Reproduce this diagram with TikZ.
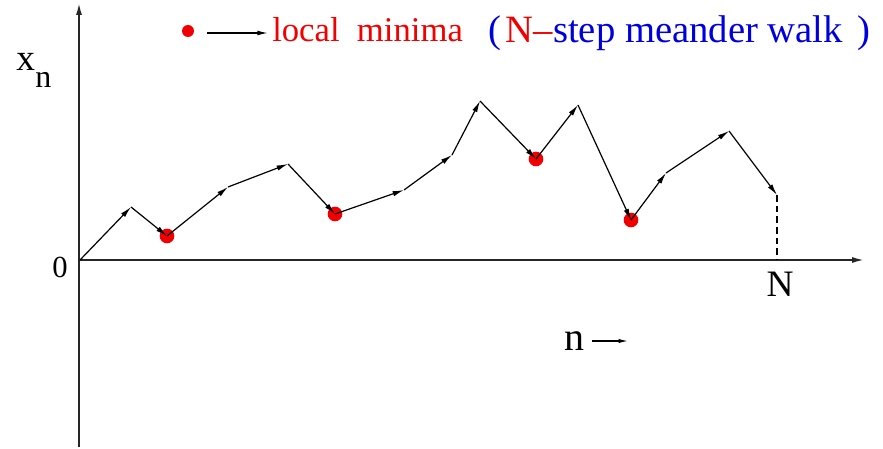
\documentclass[tikz,border=0pt]{standalone}
\usepackage{fontspec}
\setmainfont{Liberation Serif}
\usetikzlibrary{arrows.meta}
\definecolor{legred}{RGB}{240,0,0}
\definecolor{legblue}{RGB}{0,0,220}
\begin{document}
\begin{tikzpicture}[x=0.75pt,y=-0.75pt,
  axisline/.style={line width=1.3pt,black!85,-{Latex[length=9pt,width=4.5pt]}},
  walkstep/.style={line width=0.9pt,-{Latex[length=8.5pt,width=4pt]}},
  mindot/.style={circle,fill=legred,inner sep=0pt,minimum size=11pt},
  lbl/.style={inner sep=0pt,font=\fontsize{#1}{#1}\selectfont}
]
\useasboundingbox (0,0) rectangle (883,449);
% axes
\coordinate (o) at (79,260);
\coordinate (ybot) at (79,447);
\coordinate (ytop) at (79,3);
\coordinate (xend) at (864,260);
\draw[axisline] (ybot) -- (ytop);
\draw[axisline] (o) -- (xend);
% walk vertices
\coordinate (v0) at (80,260);
\coordinate (v1) at (131,207);
\coordinate (v2) at (167,236);
\coordinate (v3) at (228,187);
\coordinate (v4) at (288,164);
\coordinate (v5) at (335,214);
\coordinate (v6) at (404,190);
\coordinate (v7) at (452,155);
\coordinate (v8) at (480,101);
\coordinate (v9) at (536,159);
\coordinate (v10) at (578,105);
\coordinate (v11) at (631,220);
\coordinate (v12) at (666,173);
\coordinate (v13) at (729,131);
\coordinate (v14) at (777,195);
\coordinate (vN) at (777,260);
% minima dots
\node[mindot] (m1) at (v2) {};
\node[mindot] (m2) at (v5) {};
\node[mindot] (m3) at (v9) {};
\node[mindot] (m4) at (v11) {};
% steps
\foreach \a/\b in {v0/v1,v1/v2,v2/v3,v3/v4,v4/v5,v5/v6,v6/v7,v7/v8,v8/v9,v9/v10,v10/v11,v11/v12,v12/v13,v13/v14}
  \draw[walkstep] (\a) -- (\b);
\draw[line width=0.9pt,dashed,dash pattern=on 5pt off 3pt] (v14) -- (vN);
% labels
\node[lbl=28pt,anchor=base west] (xlab) at (16,71) {x};
\node[lbl=24pt,anchor=base west] (nsub) at (35,88) {n};
\node[lbl=23pt,anchor=base east] (zero) at (68,278) {0};
\node[lbl=28pt,anchor=base] (Nlab) at (780,297) {N};
\node[lbl=30pt,anchor=base west] (nlab) at (564,350) {n};
\coordinate (na1) at (592,341);
\coordinate (na2) at (628,341);
\draw[line width=0.9pt,-{Latex[length=7pt,width=3.2pt]}] (na1) -- (na2);
% legend
\node[mindot,minimum size=9pt] (ldot) at (188,31) {};
\coordinate (la1) at (207,33);
\coordinate (la2) at (268,33);
\draw[line width=0.9pt,-{Latex[length=8pt,width=3.6pt]}] (la1) -- (la2);
\node[lbl=26pt,anchor=base west,text=legred] (loc) at (272,42) {local\ \ minima};
\node[lbl=29pt,anchor=base west,text=legblue] (lp) at (488,43) {(};
\node[lbl=29pt,anchor=base west,text=legred] (lN) at (505,43) {N–};
\node[lbl=29pt,anchor=base west,text=legblue] (lstep) at (lN.base east) {step meander walk};
\node[lbl=29pt,anchor=base west,text=legblue] (rp) at (857,43) {)};
\end{tikzpicture}
\end{document}
